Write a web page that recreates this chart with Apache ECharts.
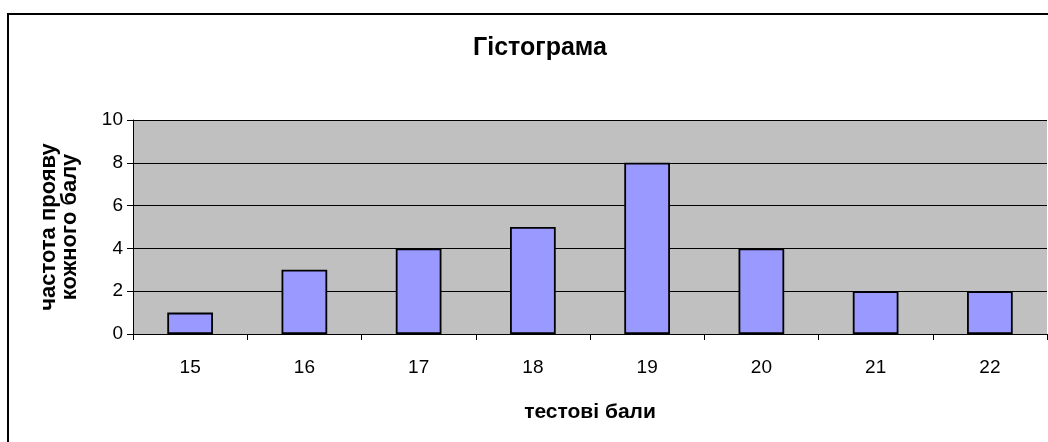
<!DOCTYPE html>
<html>
<head>
<meta charset="utf-8">
<script src="https://cdn.jsdelivr.net/npm/echarts@6/dist/echarts.min.js"></script>
<style>
  html, body { margin: 0; padding: 0; background: #fff; }
  #chart { width: 1048px; height: 442px; }
</style>
</head>
<body>
<div id="chart"></div>
<script>
const scores = ['15', '16', '17', '18', '19', '20', '21', '22']
const counts = [1, 3, 4, 5, 8, 4, 2, 2]

const font = '"Liberation Sans", Arial, sans-serif'
const chart = echarts.init(document.getElementById('chart'))

chart.setOption({
  animation: false,
  textStyle: { fontFamily: font, color: '#000' },
  graphic: [
    {
      type: 'rect',
      shape: { x: 8, y: 14, width: 1200, height: 600 },
      style: { fill: 'none', stroke: '#000', lineWidth: 2 },
      z: -1
    }
  ],
  title: {
    text: 'Гістограма',
    left: 535,
    top: 31,
    textAlign: 'center',
    textStyle: { fontFamily: font, fontSize: 25, fontWeight: 'bold', color: '#000' }
  },
  grid: {
    left: 133,
    top: 120,
    right: 1,
    bottom: 108,
    show: true,
    backgroundColor: '#c0c0c0',
    borderWidth: 0
  },
  xAxis: {
    type: 'category',
    data: scores,
    name: 'тестові бали',
    nameLocation: 'middle',
    nameGap: 68,
    nameTextStyle: { fontFamily: font, fontSize: 21, fontWeight: 'bold', color: '#000' },
    axisLine: { lineStyle: { color: '#000', width: 1 } },
    axisTick: { show: true, length: 6, lineStyle: { color: '#000' } },
    axisLabel: { fontFamily: font, fontSize: 19, color: '#000', margin: 24 }
  },
  yAxis: {
    type: 'value',
    min: 0,
    max: 10,
    interval: 2,
    name: 'частота прояву\nкожного балу',
    nameLocation: 'middle',
    nameRotate: 90,
    nameGap: 53,
    nameTextStyle: { fontFamily: font, fontSize: 22, fontWeight: 'bold', color: '#000', lineHeight: 21 },
    axisLine: { show: true, lineStyle: { color: '#000', width: 1 } },
    axisTick: { show: true, length: 6, lineStyle: { color: '#000' } },
    axisLabel: { fontFamily: font, fontSize: 19, color: '#000', margin: 10 },
    splitLine: { show: true, lineStyle: { color: '#000', width: 1 } }
  },
  series: [
    {
      type: 'bar',
      data: counts,
      barWidth: '40%',
      itemStyle: { color: '#9999ff', borderColor: '#000', borderWidth: 1.8 }
    }
  ]
})
</script>
</body>
</html>
